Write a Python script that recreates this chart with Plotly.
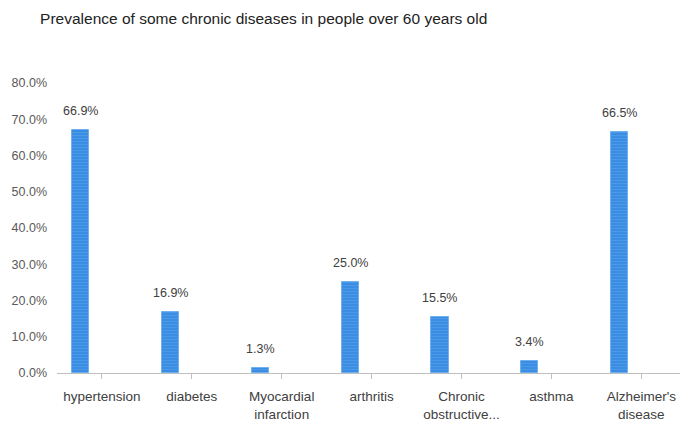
import plotly.graph_objects as go

categories = ["hypertension", "diabetes", "Myocardial<br>infarction", "arthritis",
              "Chronic<br>obstructive...", "asthma", "Alzheimer's<br>disease"]
values = [0.669, 0.169, 0.013, 0.250, 0.155, 0.034, 0.665]
labels = ["66.9%", "16.9%", "1.3%", "25.0%", "15.5%", "3.4%", "66.5%"]
y_ticks = [0, 0.1, 0.2, 0.3, 0.4, 0.5, 0.6, 0.7, 0.8]

idx = list(range(len(categories)))
bar_offset = -0.335
bar_width = 0.19
FONT = "Liberation Sans"

fig = go.Figure()
fig.add_trace(go.Bar(
    x=idx, y=values,
    offset=bar_offset, width=bar_width,
    marker=dict(color="#3a8de2", line=dict(color="#6fb0f0", width=1),
                pattern=dict(shape="-", fgcolor="#5ea6ee", size=3, solidity=0.35)),
    hoverinfo="skip",
))

for i, (v, t) in enumerate(zip(values, labels)):
    fig.add_annotation(x=i + bar_offset + bar_width / 2, y=v, text=t, showarrow=False,
                       xref="x", yref="y", yanchor="bottom", yshift=10,
                       font=dict(family=FONT, size=12.5, color="#404040"))

fig.update_layout(
    width=680, height=423,
    margin=dict(l=57, r=0, t=83, b=50),
    paper_bgcolor="white", plot_bgcolor="white",
    showlegend=False,
    title=dict(text="Prevalence of some chronic diseases in people over 60 years old",
               x=0.059, xanchor="left", y=0.957, yanchor="middle",
               font=dict(family=FONT, size=15.5, color="#222222")),
    xaxis=dict(range=[-0.5, 6.43], showline=True, linecolor="#bfbfbf", linewidth=1,
               tickvals=idx, ticktext=categories, tickson="boundaries",
               ticks="outside", ticklen=5, tickcolor="#bfbfbf", ticklabelstandoff=6,
               tickfont=dict(family=FONT, size=13.5, color="#404040"),
               showgrid=False, zeroline=False),
    yaxis=dict(range=[0, 0.8], tickvals=y_ticks, tickformat=".1%", showgrid=False,
               zeroline=False, showline=False, ticks="", ticklabelstandoff=9,
               tickfont=dict(family=FONT, size=12.5, color="#595959")),
    bargap=0,
)
fig.write_html("out.html")
